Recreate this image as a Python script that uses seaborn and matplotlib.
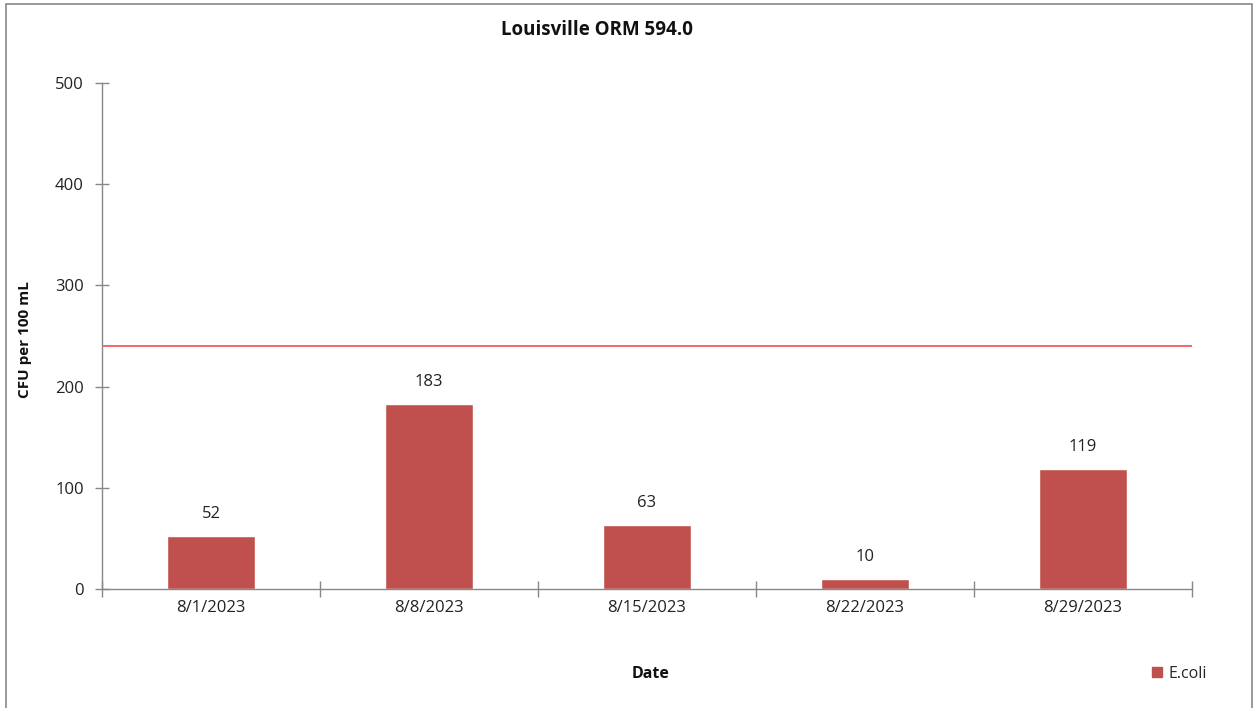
import numpy as np
import pandas as pd
import matplotlib
matplotlib.use("Agg")
import matplotlib.pyplot as plt
import matplotlib.patches as mpatches
import seaborn as sns

# data
dates = ["8/1/2023", "8/8/2023", "8/15/2023", "8/22/2023", "8/29/2023"]
ecoli = [52, 183, 63, 10, 119]
threshold = [240, 240, 240, 240, 240]

df = pd.DataFrame({"Date": dates, "E.coli": ecoli})

sns.set_theme(style="white")
plt.rcParams["font.family"] = ["Open Sans", "DejaVu Sans"]

fig = plt.figure(figsize=(12.54, 7.08), dpi=100)
ax = fig.add_axes([0.0813, 0.1681, 0.8693, 0.7147])

bar_color = "#C0504D"
sns.barplot(data=df, x="Date", y="E.coli", color=bar_color, width=0.4,
            saturation=1, ax=ax)
ax.bar_label(ax.containers[0], labels=[str(v) for v in ecoli], padding=10,
             fontsize=12, color="#222222")

# threshold line across the whole category range
ax.plot([-0.5, 4.5], [threshold[0], threshold[-1]], color="#F26868", lw=1.4)

ax.set_xlim(-0.5, 4.5)
ax.set_ylim(0, 500)
ax.set_yticks([0, 100, 200, 300, 400, 500])
ax.set_xticks(np.arange(-0.5, 5, 1.0), minor=False)
ax.set_xticklabels([])
ax.set_xticks(range(len(dates)), minor=True)
ax.set_xticklabels(dates, minor=True)
ax.tick_params(axis="x", which="minor", bottom=True, length=0, pad=8,
               labelsize=12, labelcolor="#222222")
ax.tick_params(axis="x", which="major", bottom=True, length=12,
               direction="inout", color="#888888", width=1)
ax.tick_params(axis="y", left=True, length=10, direction="inout",
               color="#888888", width=1, labelsize=12, labelcolor="#222222",
               pad=8)

for side in ["top", "right"]:
    ax.spines[side].set_visible(False)
for side in ["left", "bottom"]:
    ax.spines[side].set_color("#888888")
    ax.spines[side].set_linewidth(1)

ax.set_xlabel("")
ax.set_ylabel("")

fig.text(597 / 1254, 1 - 30 / 708, "Louisville ORM 594.0", ha="center",
         va="center", fontsize=13.5, fontweight="bold", color="#111111")
fig.text(25 / 1254, 1 - 340 / 708, "CFU per 100 mL", rotation=90,
         ha="center", va="center", fontsize=11, fontweight="bold",
         color="#111111")
fig.text(651 / 1254, 1 - 674 / 708, "Date", ha="center", va="center",
         fontsize=11.5, fontweight="bold", color="#111111")

# legend
handle = mpatches.Patch(color=bar_color, label="E.coli")
fig.legend(handles=[handle], loc="center left",
           bbox_to_anchor=(1138 / 1254, 1 - 674 / 708), frameon=False,
           fontsize=11.5, handlelength=0.6, handleheight=0.6,
           handletextpad=0.4)

# outer chart border
fig.patches.append(mpatches.Rectangle((6 / 1254, -0.01), 1246 / 1254,
                                      1 - 4 / 708 + 0.01,
                                      transform=fig.transFigure, fill=False,
                                      edgecolor="#888888", lw=1.2))

fig.savefig("out.png", dpi=100)
